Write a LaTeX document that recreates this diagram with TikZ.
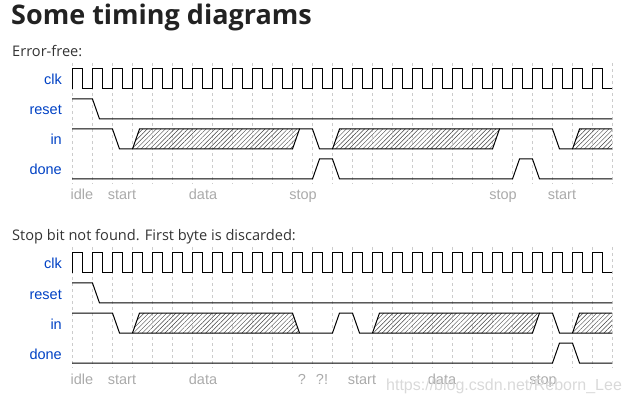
\documentclass[tikz,border=0pt]{standalone}
\usepackage{fontspec}
\setmainfont{Liberation Sans}
\newfontfamily\titlefont{Open Sans}
\usetikzlibrary{patterns.meta}
\definecolor{wdblue}{HTML}{0041C4}
\definecolor{wdgray}{HTML}{AAAAAA}
\definecolor{gridc}{HTML}{CCCCCC}
\definecolor{titlec}{HTML}{222222}
\definecolor{subc}{HTML}{333333}
\tikzset{
  wave/.style={draw=black, line width=1pt, line join=miter},
  hatch/.style={pattern={Lines[angle=45,distance=3.2pt,line width=0.45pt]}, pattern color=black!75},
  gridline/.style={draw=gridc, line width=0.8pt, dash pattern=on 3pt off 3pt},
  siglabel/.style={text=wdblue, font=\fontsize{14.5}{16}\selectfont, anchor=base east, inner sep=0pt},
  phase/.style={text=wdgray, font=\fontsize{14.5}{16}\selectfont, anchor=base, inner sep=0pt},
  subtitle/.style={text=subc, font=\titlefont\fontsize{14.6}{16}\selectfont, anchor=base west, inner sep=0pt}
}
\begin{document}
\begin{tikzpicture}[x=1pt, y=-1pt]
\useasboundingbox (0,0) rectangle (629,403);
\node[text=titlec, font=\titlefont\bfseries\fontsize{27}{30}\selectfont, anchor=base west, inner sep=0pt] (title) at (11,25) {Some timing diagrams};
\node[subtitle] (sub1) at (12,57) {Error-free:};
\node[subtitle] (sub2) at (12,241) {Stop bit not found. First byte is discarded:};

% ---------- common frame: grid, clock, reset, labels ----------
\foreach \dy/\pfx in {0/a, 184/b}{
\begin{scope}[shift={(0,\dy)}]
  \foreach \k in {0,...,27}{ \draw[gridline] (72+20*\k,63) -- (72+20*\k,184); }
  \node[siglabel] (\pfx clk) at (62,85) {clk};
  \node[siglabel] (\pfx reset) at (62,115) {reset};
  \node[siglabel] (\pfx in) at (62,145) {in};
  \node[siglabel] (\pfx done) at (62,175) {done};
  \draw[wave] (72,89) -- (72,69) \foreach \k in {0,...,25}{ -- ++(10,0) -- ++(0,20) -- ++(10,0) -- ++(0,-20) } -- ++(10,0) -- ++(0,20) -- ++(10,0);
  \draw[wave] (72,99) -- (92.5,99) -- (99.5,119) -- (612,119);
\end{scope}
}

% ---------- Error-free ----------
\fill[hatch] (132.5,149) -- (139.5,129) -- (299.5,129) -- (292.5,149) -- cycle;
\fill[hatch] (332.5,149) -- (339.5,129) -- (499.5,129) -- (492.5,149) -- cycle;
\fill[hatch] (572.5,149) -- (579.5,129) -- (612,129) -- (612,149) -- cycle;
\draw[wave] (72,129) -- (112.5,129) -- (119.5,149) -- (292.5,149) -- (299.5,129) -- (312.5,129) -- (319.5,149) -- (492.5,149) -- (499.5,129) -- (552.5,129) -- (559.5,149) -- (612,149);
\draw[wave] (132.5,149) -- (139.5,129) -- (299.5,129);
\draw[wave] (332.5,149) -- (339.5,129) -- (499.5,129);
\draw[wave] (572.5,149) -- (579.5,129) -- (612,129);
\draw[wave] (72,179) -- (312.5,179) -- (319.5,159) -- (332.5,159) -- (339.5,179) -- (512.5,179) -- (519.5,159) -- (532.5,159) -- (539.5,179) -- (612,179);
\node[phase] (a1) at (82,200) {idle};
\node[phase] (a2) at (122,200) {start};
\node[phase] (a3) at (203,200) {data};
\node[phase] (a4) at (303,200) {stop};
\node[phase] (a5) at (503,200) {stop};
\node[phase] (a6) at (562,200) {start};

% ---------- Stop bit not found ----------
\begin{scope}[shift={(0,184)}]
\fill[hatch] (132.5,149) -- (139.5,129) -- (292.5,129) -- (299.5,149) -- cycle;
\fill[hatch] (372.5,149) -- (379.5,129) -- (539.5,129) -- (532.5,149) -- cycle;
\fill[hatch] (572.5,149) -- (579.5,129) -- (612,129) -- (612,149) -- cycle;
\draw[wave] (72,129) -- (112.5,129) -- (119.5,149) -- (332.5,149) -- (339.5,129) -- (352.5,129) -- (359.5,149) -- (532.5,149) -- (539.5,129) -- (552.5,129) -- (559.5,149) -- (612,149);
\draw[wave] (132.5,149) -- (139.5,129) -- (292.5,129) -- (299.5,149);
\draw[wave] (372.5,149) -- (379.5,129) -- (539.5,129);
\draw[wave] (572.5,149) -- (579.5,129) -- (612,129);
\draw[wave] (72,179) -- (552.5,179) -- (559.5,159) -- (572.5,159) -- (579.5,179) -- (612,179);
\node[phase] (b1) at (82,200) {idle};
\node[phase] (b2) at (122,200) {start};
\node[phase] (b3) at (203,200) {data};
\node[phase] (b4) at (302,200) {?};
\node[phase] (b5) at (322,200) {?!};
\node[phase] (b6) at (362,200) {start};
\node[phase] (b7) at (442,200) {data};
\node[phase] (b8) at (543,200) {stop};
\end{scope}
\node[text=black!15, font=\fontsize{16}{18}\selectfont, anchor=base west, inner sep=0pt] (wm) at (386,390) {https://blog.csdn.net/Reborn\_Lee};
\end{tikzpicture}
\end{document}
